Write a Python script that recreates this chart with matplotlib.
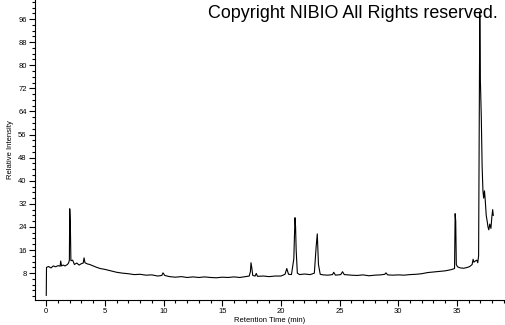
import matplotlib
matplotlib.use('Agg')
import matplotlib.pyplot as plt
from matplotlib.ticker import MultipleLocator

# chromatogram trace (time in min, relative intensity)
rt = [0.0, 0.02, 0.2, 0.4, 0.6, 0.8, 1.0, 1.18, 1.23, 1.3, 1.45, 1.6, 1.8, 1.9,
      1.97, 2.0, 2.05, 2.1, 2.25, 2.4, 2.6, 2.8, 3.0, 3.15, 3.22, 3.3, 3.5, 3.7,
      4.0, 4.3, 4.6, 5.0, 5.5, 6.0, 6.5, 7.0, 7.5, 8.0, 8.5, 9.0, 9.5, 9.85,
      9.95, 10.1, 10.5, 11.0, 11.5, 12.0, 12.5, 13.0, 13.5, 14.0, 14.5, 15.0,
      15.5, 16.0, 16.5, 17.0, 17.3, 17.4, 17.45, 17.52, 17.6, 17.8, 17.9, 18.0,
      18.5, 19.0, 19.5, 20.0, 20.35, 20.5, 20.65, 20.9, 21.1, 21.2, 21.25,
      21.3, 21.4, 21.6, 22.0, 22.5, 22.85, 23.0, 23.1, 23.2, 23.35, 23.6, 24.0,
      24.4, 24.5, 24.65, 25.1, 25.25, 25.4, 26.0, 26.5, 27.0, 27.5, 28.0,
      28.5, 28.85, 28.95, 29.1, 29.5, 30.0, 30.5, 31.0, 31.5, 32.0, 32.5, 33.0,
      33.5, 34.0, 34.5, 34.8, 34.85, 34.9, 34.95, 35.05, 35.3, 35.6, 35.9,
      36.1, 36.3, 36.38, 36.45, 36.6, 36.7, 36.78, 36.85, 36.9, 36.95, 37.0,
      37.08, 37.15, 37.22, 37.28, 37.35, 37.42, 37.5, 37.58, 37.65, 37.72,
      37.8, 37.9, 37.98, 38.05, 38.1]
intensity = [0.3, 10.0, 10.3, 9.8, 10.5, 10.2, 10.6, 10.4, 12.2, 10.5, 10.8,
             10.5, 11.0, 11.5, 12.5, 30.3, 25.5, 12.3, 12.5, 11.0, 11.5, 10.8,
             11.3, 11.5, 13.3, 11.6, 11.2, 11.0, 10.5, 10.0, 9.6, 9.3, 8.8,
             8.3, 8.0, 7.8, 7.5, 7.6, 7.3, 7.4, 7.0, 7.2, 8.1, 7.2, 6.8, 6.6,
             6.8, 6.5, 6.7, 6.5, 6.7, 6.5, 6.4, 6.6, 6.5, 6.7, 6.5, 6.8, 7.0,
             8.5, 11.6, 9.8, 7.2, 7.0, 7.9, 6.9, 7.0, 6.8, 7.0, 7.0, 7.6, 9.6,
             7.6, 7.5, 13.0, 27.2, 24.0, 16.0, 8.0, 7.5, 7.7, 7.5, 8.0, 17.0,
             21.6, 11.0, 7.6, 7.4, 7.3, 7.5, 8.3, 7.3, 7.5, 8.5, 7.5, 7.3, 7.2,
             7.4, 7.1, 7.3, 7.4, 7.6, 8.1, 7.4, 7.3, 7.4, 7.3, 7.5, 7.6, 7.8,
             8.2, 8.4, 8.6, 8.8, 9.2, 9.6, 28.6, 26.0, 11.0, 10.2, 9.8, 9.7,
             10.0, 10.3, 11.0, 12.8, 11.8, 12.3, 12.5, 11.6, 14.0, 60.0, 98.5,
             75.0, 62.0, 45.0, 36.5, 34.0, 36.5, 33.0, 28.0, 26.0, 24.0, 23.0,
             25.0, 23.5, 27.5, 30.0, 28.0]

fig = plt.figure(figsize=(5.05, 3.25), dpi=100)
ax = fig.add_axes([35 / 505, 25 / 325, 1 - 35 / 505, 300 / 325])
ax.plot(rt, intensity, color='black', linewidth=0.8)

ax.set_xlim(-0.96, 39.1)
ax.set_ylim(-1.3, 102.6)
ax.xaxis.set_major_locator(MultipleLocator(5))
ax.xaxis.set_minor_locator(MultipleLocator(1))
ax.yaxis.set_major_locator(MultipleLocator(8))
ax.yaxis.set_minor_locator(MultipleLocator(2))
ax.set_yticks(range(8, 97, 8))
ax.spines['top'].set_visible(False)
ax.spines['right'].set_visible(False)
ax.tick_params(which='major', length=4, width=0.8, labelsize=5.5, pad=2)
ax.tick_params(which='minor', length=2.5, width=0.8)
for lab in ax.get_xticklabels() + ax.get_yticklabels():
    lab.set_fontfamily('Liberation Sans')

ax.set_xlabel('Retention Time (min)', fontsize=5.5, family='Liberation Sans',
              labelpad=1)
ax.set_ylabel('Relative Intensity', fontsize=5.5, family='Liberation Sans',
              labelpad=3)

fig.text(498 / 505, 1 - 14 / 325, 'Copyright NIBIO All Rights reserved.',
         ha='right', va='center', fontsize=12.9, family='Liberation Sans')

fig.savefig('out.png', dpi=100)
